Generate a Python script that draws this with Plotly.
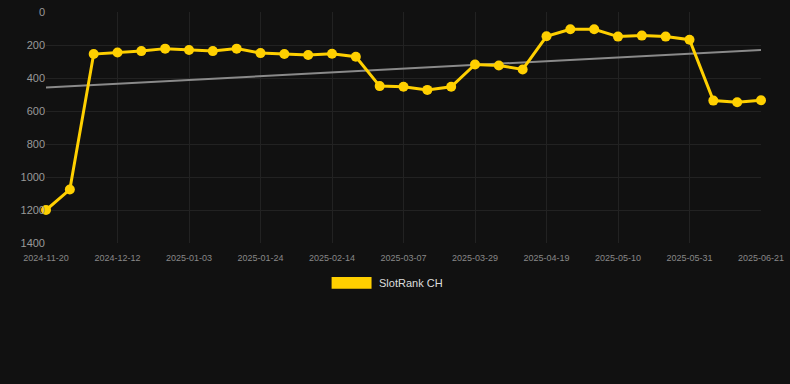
import plotly.graph_objects as go

dates = ["2024-11-20","2024-11-27","2024-12-05","2024-12-12","2024-12-19","2024-12-26",
         "2025-01-03","2025-01-10","2025-01-17","2025-01-24","2025-01-31","2025-02-07",
         "2025-02-14","2025-02-21","2025-02-28","2025-03-07","2025-03-14","2025-03-21",
         "2025-03-29","2025-04-05","2025-04-12","2025-04-19","2025-04-26","2025-05-03",
         "2025-05-10","2025-05-17","2025-05-24","2025-05-31","2025-06-07","2025-06-14",
         "2025-06-21"]
ranks = [1200,1076,255,245,237,222,230,237,222,249,255,261,253,271,449,453,472,453,
         318,324,348,147,105,105,149,143,149,168,537,547,535]
trend_dates = [dates[0], dates[-1]]
trend_values = [457, 230]
tick_labels = dates[::3]
y_ticks = [0,200,400,600,800,1000,1200,1400]
series_name = "SlotRank CH"

fig = go.Figure()
fig.add_trace(go.Scatter(x=dates, y=[None]*len(dates), mode="lines", showlegend=False,
                         hoverinfo="skip"))
fig.add_trace(go.Scatter(x=trend_dates, y=trend_values, mode="lines",
                         line=dict(color="#8a8a8a", width=2), showlegend=False, hoverinfo="skip"))
fig.add_trace(go.Scatter(x=dates, y=ranks, mode="lines+markers", name=series_name,
                         line=dict(color="#FFD000", width=3), cliponaxis=False,
                         marker=dict(color="#FFD000", size=10), showlegend=False))

fig.add_shape(type="rect", xref="paper", yref="paper",
              x0=(332-46)/716, x1=(372-46)/716, y0=(243-290)/237, y1=(243-278)/237,
              fillcolor="#FFD000", line=dict(width=0))
fig.add_annotation(xref="paper", yref="paper", x=(377-46)/716, y=(243-284)/237,
                   text=series_name, showarrow=False, xanchor="left", yanchor="middle",
                   font=dict(size=11, color="#dddddd", family="Liberation Sans, Arial"))

fig.update_layout(
    width=790, height=384,
    paper_bgcolor="#111111", plot_bgcolor="#111111",
    margin=dict(l=46, r=28, t=6, b=141),
    font=dict(family="Liberation Sans, Arial", color="#888888"),
    showlegend=False,
    xaxis=dict(type="category", categoryorder="array", categoryarray=dates,
               range=[0, len(dates)-1],
               tickmode="array", tickvals=tick_labels, ticktext=tick_labels,
               tickfont=dict(size=9, color="#888888"), showgrid=True, gridcolor="#222222",
               zeroline=False, showline=False, ticks="outside", ticklen=6,
               tickcolor="rgba(0,0,0,0)"),
    yaxis=dict(range=[1400, 0], tickvals=y_ticks, tickfont=dict(size=11, color="#999999"),
               showgrid=True, gridcolor="#222222", zeroline=False, showline=False,
               ticklabeloverflow="allow"),
)
fig.write_html("out.html", post_script="document.body.style.margin='0';",
               config={"displayModeBar": False})
